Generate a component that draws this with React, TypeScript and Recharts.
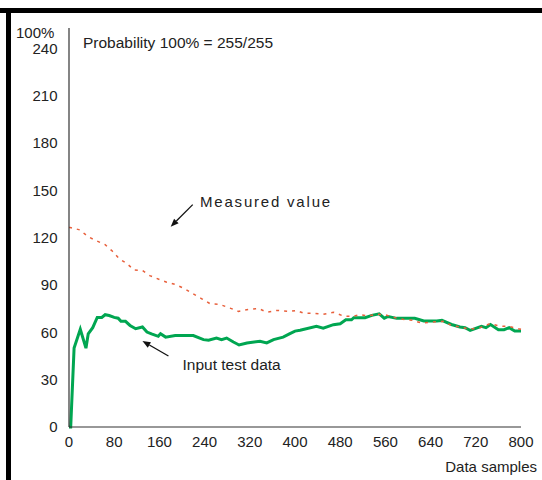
import React from "react";
import { LineChart, Line, XAxis, YAxis, ReferenceLine } from "recharts";

const xTicks = [0, 80, 160, 240, 320, 400, 480, 560, 640, 720, 800];
const yTicks = [0, 30, 60, 90, 120, 150, 180, 210, 240];

const inputSamples = [0, 3, 9, 20, 30, 34, 42, 50, 58, 64, 71, 80, 87, 92, 100, 108, 118, 130, 138, 146, 158, 162, 171, 188, 220, 238, 247, 261, 270, 279, 291, 301, 315, 338, 350, 362, 379, 391, 400, 409, 438, 450, 468, 480, 490, 500, 504, 524, 536, 549, 558, 565, 580, 612, 628, 651, 660, 677, 692, 701, 710, 730, 738, 746, 760, 770, 779, 789, 800];
const inputValues = [0, 0, 50, 62, 50, 59, 63, 69.5, 69.5, 71.2, 70.7, 69.5, 69, 67, 67, 64.4, 62.3, 63.4, 60.2, 59, 57.5, 59.2, 57, 58, 58, 55.4, 55, 56.4, 55.4, 56.4, 53.9, 52, 53.3, 54.3, 53.3, 55.4, 57, 59.2, 60.8, 61.3, 63.8, 62.7, 64.9, 65.5, 68, 68, 69.3, 69.3, 70.8, 71.8, 69, 70.1, 68.9, 68.9, 67.2, 67.2, 67.6, 65, 63.4, 63, 61.3, 63.8, 63, 65, 61.7, 61.7, 63, 60.8, 60.8];

const measuredSamples = [0, 2, 19, 34, 49, 64, 77, 89, 102, 115, 130, 143, 160, 173, 189, 205, 220, 235, 250, 267, 285, 300, 317, 335, 350, 368, 391, 403, 415, 432, 450, 468, 486, 502, 515, 530, 545, 559, 580, 595, 609, 624, 640, 662, 677, 692, 710, 728, 745, 762, 779, 795, 800];
const measuredValues = [126.5, 126.5, 125, 120.6, 118, 115.6, 111.4, 106.6, 103.8, 99.6, 99.2, 96, 93.5, 91.8, 90.3, 87.6, 84.4, 81.3, 78.1, 77.7, 75.4, 73.3, 74.5, 75.2, 72.8, 73.9, 73.3, 73.9, 72.2, 72.2, 71.4, 72.8, 70.3, 70.1, 71.2, 70.5, 71.5, 71.2, 69, 68, 67.6, 65.9, 66.5, 67, 64.4, 63.4, 62, 63, 65.5, 64, 63.8, 62.3, 62];

const inputData = inputSamples.map((s, i) => ({ s, v: inputValues[i] }));
const measuredData = measuredSamples.map((s, i) => ({ s, v: measuredValues[i] }));

const measuredArrow = [{ x: 219, y: 141 }, { x: 180, y: 127 }];
const inputArrow = [{ x: 176, y: 45 }, { x: 130, y: 54.5 }];

const FONT = "'Liberation Sans', Arial, sans-serif";

const Arrow = (props: any) => {
  const { x1, y1, x2, y2 } = props;
  if (x1 == null) return null;
  const ang = Math.atan2(y2 - y1, x2 - x1);
  const len = 8;
  const w = 3.2;
  const bx = x2 - len * Math.cos(ang);
  const by = y2 - len * Math.sin(ang);
  const px = -Math.sin(ang) * w;
  const py = Math.cos(ang) * w;
  return (
    <g>
      <line x1={x1} y1={y1} x2={bx} y2={by} stroke="#111" strokeWidth={1.3} />
      <polygon points={`${x2},${y2} ${bx + px},${by + py} ${bx - px},${by - py}`} fill="#111" />
    </g>
  );
};

export default function App() {
  const tickStyle = { fontSize: 15, fill: "#222", fontFamily: FONT };
  return (
    <div style={{ position: "absolute", left: 0, top: 0, width: 542, height: 480, background: "#fff", overflow: "hidden" }}>
      <div style={{ position: "absolute", left: 0, top: 8, width: 542, height: 5, background: "#000" }} />
      <div style={{ position: "absolute", left: 6, top: 8, width: 5, height: 472, background: "#000" }} />
      <div style={{ position: "absolute", left: 0, top: 0 }}>
        <LineChart width={542} height={480} margin={{ top: 28, right: 21, bottom: 23, left: 0 }}>
          <XAxis
            dataKey="s"
            type="number"
            domain={[0, 800]}
            ticks={xTicks}
            allowDuplicatedCategory={false}
            height={30}
            tickLine={false}
            tickSize={0}
            tickMargin={9}
            axisLine={{ stroke: "#333", strokeWidth: 1.2 }}
            tick={tickStyle}
            interval={0}
          />
          <XAxis
            xAxisId="top"
            orientation="top"
            type="number"
            domain={[0, 800]}
            height={0}
            tick={false}
            tickLine={false}
            axisLine={{ stroke: "#8a8a8a", strokeWidth: 1.2 }}
          />
          <YAxis
            dataKey="v"
            type="number"
            domain={[0, 253]}
            ticks={yTicks}
            width={69}
            tickLine={false}
            tickSize={0}
            tickMargin={11.5}
            axisLine={{ stroke: "#333", strokeWidth: 1.2 }}
            tick={tickStyle}
            interval={0}
          />
          <YAxis
            yAxisId="right"
            orientation="right"
            type="number"
            domain={[0, 253]}
            width={0}
            tick={false}
            tickLine={false}
            axisLine={{ stroke: "#444", strokeWidth: 1.4 }}
          />
          <Line
            data={inputData}
            dataKey="v"
            type="linear"
            stroke="#00a651"
            strokeWidth={3}
            dot={false}
            activeDot={false}
            isAnimationActive={false}
          />
          <Line
            data={measuredData}
            dataKey="v"
            type="linear"
            stroke="#e8603c"
            strokeWidth={1.5}
            strokeDasharray="3 5"
            dot={false}
            activeDot={false}
            isAnimationActive={false}
          />
          <ReferenceLine segment={measuredArrow} shape={Arrow} ifOverflow="visible" />
          <ReferenceLine segment={inputArrow} shape={Arrow} ifOverflow="visible" />
        </LineChart>
      </div>
      <svg width={542} height={480} style={{ position: "absolute", left: 0, top: 0, pointerEvents: "none" }}>
        <g fontFamily={FONT} fill="#222" fontSize={15}>
          <text x={16} y={38}>100%</text>
          <text x={83} y={47.5} fontSize={15.5}>Probability 100% = 255/255</text>
          <text x={200} y={206.5} letterSpacing={1.8}>Measured value</text>
          <text x={182.5} y={369.5} fontSize={15.5}>Input test data</text>
          <text x={537} y={472} textAnchor="end">Data samples</text>
        </g>
      </svg>
    </div>
  );
}
